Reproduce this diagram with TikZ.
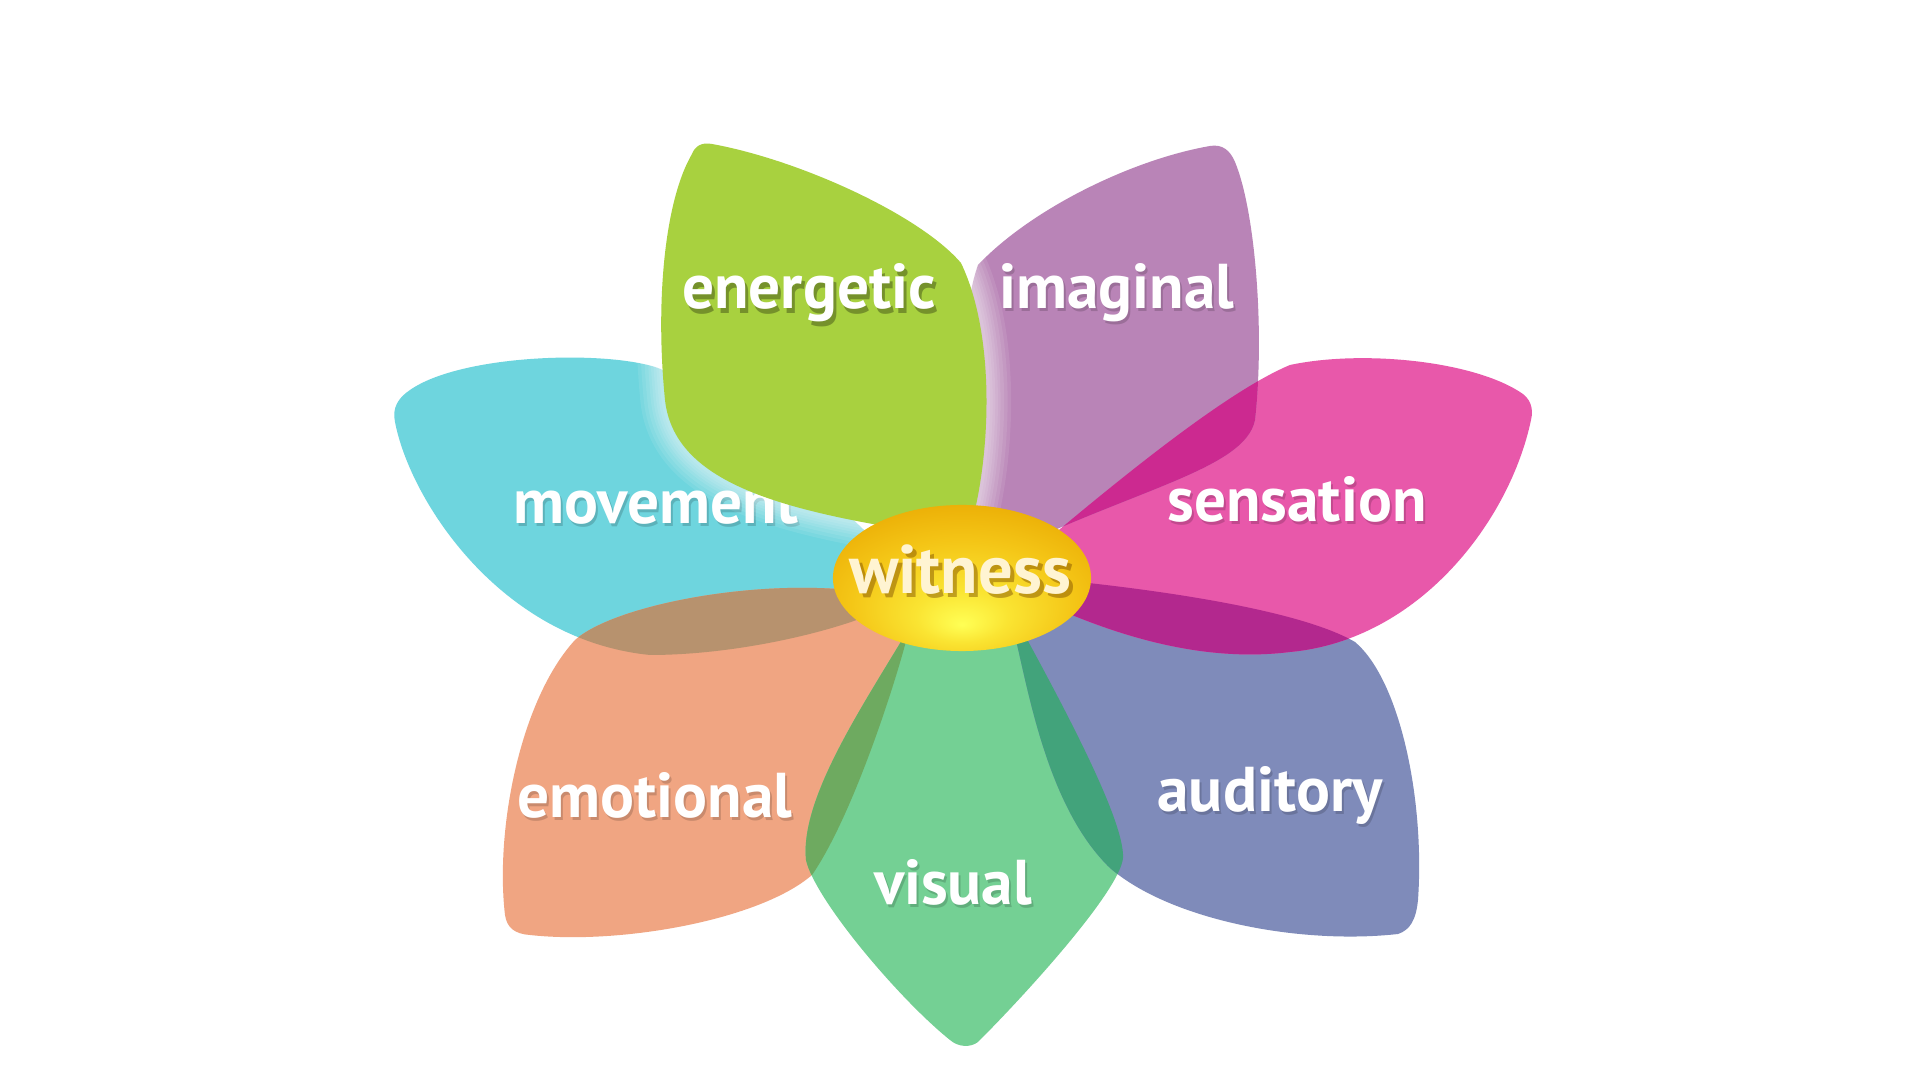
\documentclass[tikz,border=0pt]{standalone}
\usepackage{fontspec}
\setmainfont{PT Sans}
\definecolor{cEn}{HTML}{A8D13F}
\definecolor{cIm}{HTML}{B984B7}
\definecolor{cSe}{HTML}{E858AA}
\definecolor{cAu}{HTML}{7F8BBA}
\definecolor{cVi}{HTML}{74D094}
\definecolor{cEm}{HTML}{F0A582}
\definecolor{cMo}{HTML}{6ED5DE}
\definecolor{oMoEm}{HTML}{B7926E}
\definecolor{oEmVi}{HTML}{6EAA60}
\definecolor{oViAu}{HTML}{42A37B}
\definecolor{oAuSe}{HTML}{B3288E}
\definecolor{oSeIm}{HTML}{CC2990}
\definecolor{wyA}{HTML}{FFFF55}
\definecolor{wyB}{HTML}{FAE432}
\definecolor{wyC}{HTML}{F4C516}
\definecolor{wyD}{HTML}{E8A600}
\definecolor{wtxt}{HTML}{FFF4D2}
\definecolor{wshd}{HTML}{7A4A00}
\pgfdeclareradialshading{goldshade}{\pgfpoint{0bp}{-16bp}}{color(0bp)=(wyA); color(9bp)=(wyB); color(22bp)=(wyC); color(36bp)=(wyD); color(50bp)=(wyD)}
\tikzset{
  x=0.01cm, y=-0.01cm,
  pMo/.style={insert path={(880,545) .. controls (800,470) and (720,390) .. (655,367)
     .. controls (600,350) and (460,355) .. (410,390)
     .. controls (398,398) and (392,408) .. (395,422)
     .. controls (410,500) and (500,640) .. (650,655)
     .. controls (730,655) and (820,635) .. (870,615)
     .. controls (900,600) and (900,570) .. (880,545) -- cycle}},
  pEm/.style={insert path={(905,600) .. controls (800,570) and (620,600) .. (575,640)
     .. controls (520,700) and (495,830) .. (505,915)
     .. controls (507,928) and (515,934) .. (530,935)
     .. controls (620,945) and (760,920) .. (812,875)
     .. controls (850,820) and (890,700) .. (905,645) -- cycle}},
  pVi/.style={insert path={(905,635) .. controls (860,710) and (800,800) .. (806,860)
     .. controls (815,900) and (900,1000) .. (950,1040)
     .. controls (958,1047) and (970,1048) .. (978,1042)
     .. controls (1030,990) and (1120,890) .. (1123,858)
     .. controls (1125,820) and (1060,700) .. (1022,630)
     .. controls (990,615) and (940,615) .. (905,635) -- cycle}},
  pAu/.style={insert path={(1060,580) .. controls (1160,590) and (1300,610) .. (1355,642)
     .. controls (1400,680) and (1425,800) .. (1418,900)
     .. controls (1416,920) and (1410,930) .. (1398,934)
     .. controls (1300,945) and (1170,920) .. (1110,868)
     .. controls (1050,810) and (1030,700) .. (1016,640)
     .. controls (1010,615) and (1030,595) .. (1060,580) -- cycle}},
  pSe/.style={insert path={(1041,545) .. controls (1130,470) and (1230,390) .. (1290,365)
     .. controls (1360,350) and (1470,360) .. (1520,392)
     .. controls (1530,398) and (1534,408) .. (1531,420)
     .. controls (1510,520) and (1420,640) .. (1290,652)
     .. controls (1210,662) and (1130,640) .. (1060,610)
     .. controls (1040,590) and (1035,560) .. (1041,545) -- cycle}},
  pIm/.style={insert path={(990,560) .. controls (960,480) and (955,330) .. (978,265)
     .. controls (1030,210) and (1130,160) .. (1210,146)
     .. controls (1222,144) and (1230,150) .. (1235,162)
     .. controls (1255,210) and (1265,330) .. (1255,420)
     .. controls (1245,470) and (1130,490) .. (990,560) -- cycle}},
  pEn/.style={insert path={(967,539) .. controls (990,470) and (998,340) .. (961,263)
     .. controls (920,215) and (800,160) .. (712,144)
     .. controls (702,142) and (695,146) .. (692,154)
     .. controls (665,200) and (655,300) .. (665,400)
     .. controls (675,490) and (800,515) .. (967,539) -- cycle}},
  lbl/.style={text=white, font=\fontsize{18}{20}\selectfont\bfseries, inner sep=0pt, anchor=base},
  shd/.style={text=black, opacity=.16, font=\fontsize{18}{20}\selectfont\bfseries, inner sep=0pt, anchor=base},
  wlbl/.style={lbl, font=\fontsize{19.5}{22}\selectfont\bfseries},
}
\begin{document}
\begin{tikzpicture}
\path[use as bounding box, fill=white] (0,0) rectangle (1920,1080);
% petals
\fill[cMo, pMo];
\fill[cEm, pEm];
\fill[cVi, pVi];
\fill[cAu, pAu];
\fill[cSe, pSe];
\fill[cIm, pIm];
% overlaps
\begin{scope}\path[clip, pMo]; \fill[oMoEm, pEm];\end{scope}
\begin{scope}\path[clip, pEm]; \fill[oEmVi, pVi];\end{scope}
\begin{scope}\path[clip, pVi]; \fill[oViAu, pAu];\end{scope}
\begin{scope}\path[clip, pAu]; \fill[oAuSe, pSe];\end{scope}
\begin{scope}\path[clip, pSe]; \fill[oSeIm, pIm];\end{scope}
% movement label sits below the energetic petal
\node[shd] (sMo) at (658,527) {movement};
\node[lbl] (lMo) at (656,524) {movement};
% energetic petal with soft white glow
\foreach \w in {14,12,10,8,6.5,5,3.5,2}{
  \draw[white, opacity=.09, line width=\w pt, pEn];
}
\fill[cEn, pEn];
% labels
\node[shd, opacity=.3] (sEn) at (812,314) {energetic};
\node[lbl] (lEn) at (809,309) {energetic};
\node[shd] (sIm) at (1119,312) {imaginal};
\node[lbl] (lIm) at (1117,309) {imaginal};
\node[shd] (sSe) at (1299,525) {sensation};
\node[lbl] (lSe) at (1297,522) {sensation};
\node[shd] (sEm) at (657,821) {emotional};
\node[lbl] (lEm) at (655,818) {emotional};
\node[shd] (sAu) at (1272,815) {auditory};
\node[lbl] (lAu) at (1270,812) {auditory};
\node[shd] (sVi) at (955,908) {visual};
\node[lbl] (lVi) at (953,905) {visual};
% witness
\shade[shading=goldshade] (962,578) ellipse [x radius=1.29cm, y radius=0.73cm];
\node[wlbl, text=wshd, opacity=.45] (sWi) at (964,598) {witness};
\node[wlbl, text=wtxt] (lWi) at (960,594) {witness};
\end{tikzpicture}
\end{document}
